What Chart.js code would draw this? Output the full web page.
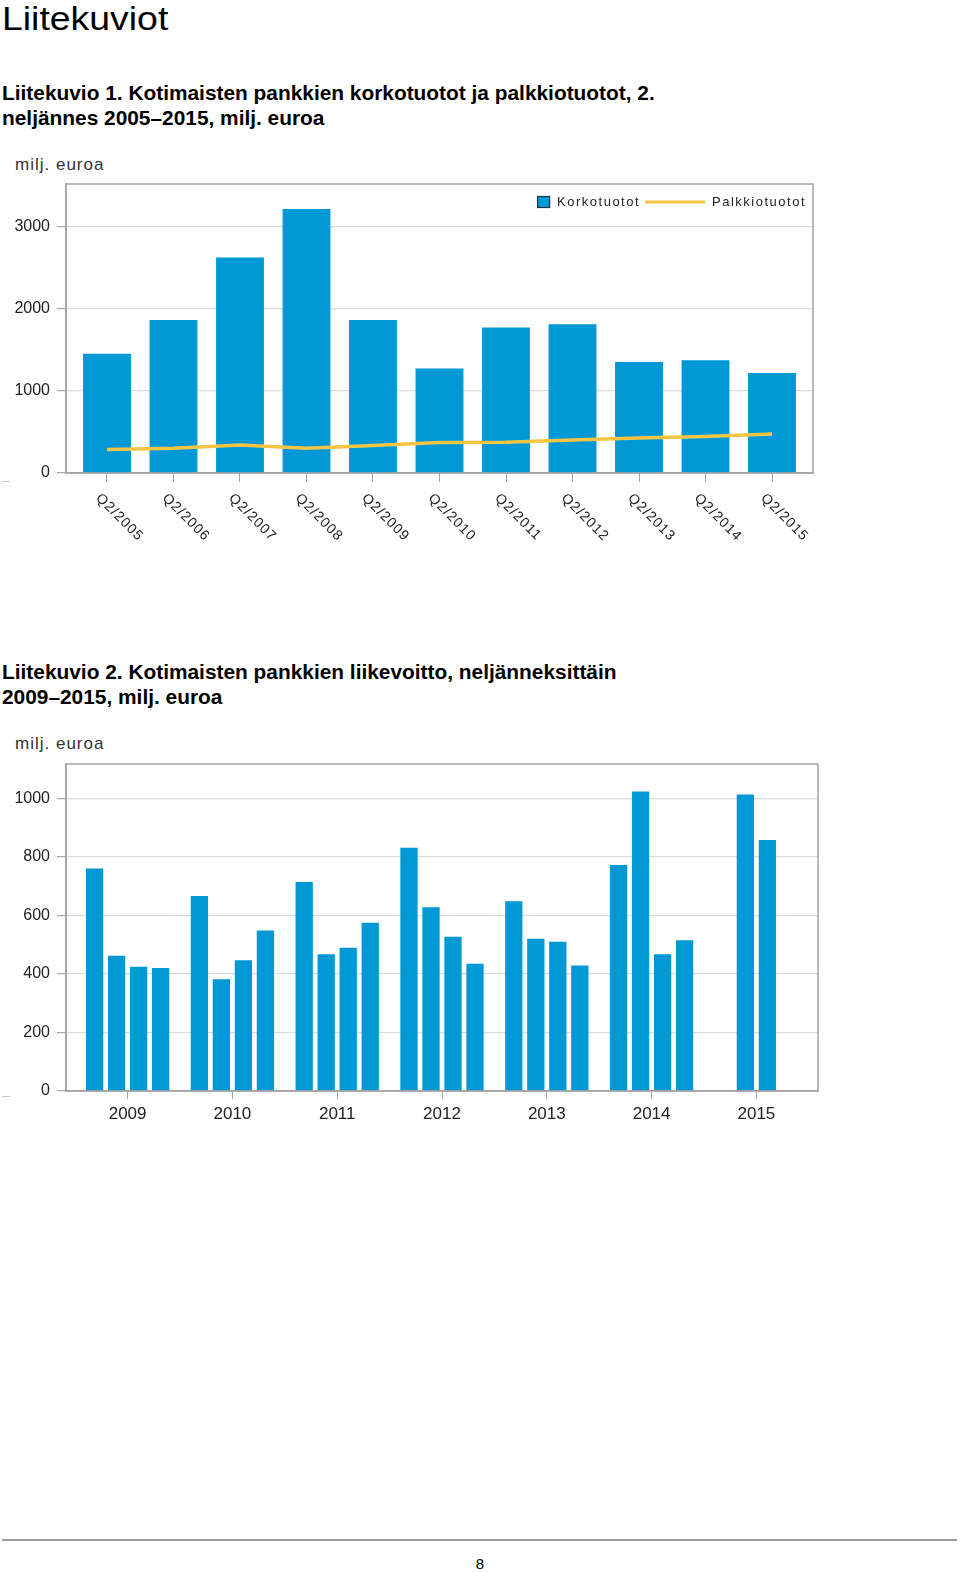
<!DOCTYPE html>
<html lang="fi">
<head>
<meta charset="utf-8">
<title>Liitekuviot</title>
<script src="https://cdn.jsdelivr.net/npm/chart.js@4.4.1/dist/chart.umd.min.js"></script>
<style>
  body { margin: 0; width: 960px; height: 1572px; position: relative; background: #fff;
         font-family: 'Liberation Sans', Arial, sans-serif; color: #000; }
  .abs { position: absolute; }
  h1 { position: absolute; left: 2px; top: 1px; margin: 0; font-size: 34px; line-height: 34px; font-weight: normal;
       transform: scaleX(1.1); transform-origin: left top; white-space: nowrap; }
  .caption { position: absolute; left: 2px; margin: 0; font-size: 19.5px; line-height: 25px; font-weight: bold;
             transform: scaleX(1.07); transform-origin: left top; white-space: nowrap; }
  .unit { position: absolute; left: 15px; font-size: 17px; color: #333; letter-spacing: 1px; }
  .dash { position: absolute; left: 2px; width: 8px; height: 1px; background: #c8c8c8; }
  canvas { position: absolute; left: 0; }
</style>
</head>
<body>
<h1>Liitekuviot</h1>

<p class="caption" style="top:81px">Liitekuvio 1. Kotimaisten pankkien korkotuotot ja palkkiotuotot, 2.<br>neljännes 2005–2015, milj. euroa</p>
<div class="unit" style="top:155px">milj. euroa</div>
<canvas id="chart-income" width="830" height="420" style="top:140px"></canvas>
<div class="dash" style="top:481px"></div>

<p class="caption" style="top:660px">Liitekuvio 2. Kotimaisten pankkien liikevoitto, neljänneksittäin<br>2009–2015, milj. euroa</p>
<div class="unit" style="top:734px">milj. euroa</div>
<canvas id="chart-profit" width="830" height="420" style="top:720px"></canvas>
<div class="dash" style="top:1096px"></div>

<div class="abs" style="left:2px; top:1539px; width:955px; height:2px; background:#9a9a9a"></div>
<div class="abs" style="left:0; width:960px; top:1555px; text-align:center; font-size:15px">8</div>

<script>
// Chart 1: Q2 of each year, korkotuotot (bars) and palkkiotuotot (line)
const quarters = ['Q2/2005', 'Q2/2006', 'Q2/2007', 'Q2/2008', 'Q2/2009', 'Q2/2010',
  'Q2/2011', 'Q2/2012', 'Q2/2013', 'Q2/2014', 'Q2/2015'];
const korkotuotot = [1450, 1860, 2620, 3210, 1860, 1270, 1770, 1810, 1350, 1370, 1215];
const palkkiotuotot = [285, 300, 340, 300, 335, 370, 375, 400, 425, 445, 475];
const incomeTicks = [0, 1000, 2000, 3000];

// Chart 2: quarterly operating profit per year (null = no data yet)
const years = [2009, 2010, 2011, 2012, 2013, 2014, 2015];
const q1 = [760, 666, 714, 831, 648, 772, 1013];
const q2 = [462, 382, 467, 628, 520, 1023, 857];
const q3 = [424, 447, 489, 527, 510, 467, null];
const q4 = [420, 548, 575, 435, 429, 515, null];
const profitTicks = [0, 200, 400, 600, 800, 1000];

const BLUE = '#0099d6';
const YELLOW = '#f5c443';
const FRAME = '#a4a4a4';
const GRID = '#dcdcdc';
const FONT = "'Liberation Sans', Arial, sans-serif";
// distance between two quarter bars inside one year, in years
const QUARTER_STEP = 0.21;

/**
 * Draws the box round the plot area (top and right side are not axis borders)
 */
const framePlugin = {
  id: 'frame',
  afterDatasetsDraw(chart) {
    const { ctx, chartArea: a } = chart;
    ctx.save();
    ctx.strokeStyle = FRAME;
    ctx.lineWidth = 1.5;
    ctx.strokeRect(a.left, a.top, a.right - a.left, a.bottom - a.top);
    ctx.restore();
  },
};

/**
 * Rotated category labels below the x axis, reading downwards to the right
 */
const slantLabels = {
  id: 'slantLabels',
  afterDraw(chart) {
    const { ctx } = chart;
    const scale = chart.scales.x;
    ctx.save();
    ctx.font = `14px ${FONT}`;
    if ('letterSpacing' in ctx) ctx.letterSpacing = '1px';
    ctx.fillStyle = '#222';
    ctx.textAlign = 'left';
    ctx.textBaseline = 'top';
    quarters.forEach((label, i) => {
      const x = scale.getPixelForValue(i);
      ctx.save();
      ctx.translate(x - 4, chart.chartArea.bottom + 18);
      ctx.rotate(Math.PI / 4);
      ctx.fillText(label, 0, 0);
      ctx.restore();
    });
    ctx.restore();
  },
};

/**
 * Legend drawn inside the plot area, top right
 */
const insideLegend = {
  id: 'insideLegend',
  afterDraw(chart) {
    const { ctx, chartArea: a } = chart;
    const [bars, line] = chart.data.datasets;
    ctx.save();
    ctx.font = `13px ${FONT}`;
    if ('letterSpacing' in ctx) ctx.letterSpacing = '1.5px';
    const w1 = ctx.measureText(bars.label).width;
    const w2 = ctx.measureText(line.label).width;
    const total = 13 + 7 + w1 + 5 + 60 + 7 + w2;
    let x = a.right - 7 - total;
    const y = a.top + 18;

    ctx.fillStyle = bars.backgroundColor;
    ctx.fillRect(x, y - 6, 13, 12);
    ctx.strokeStyle = '#1d3550';
    ctx.lineWidth = 1.2;
    ctx.strokeRect(x + 0.5, y - 5.5, 12, 11);
    x += 20;

    ctx.fillStyle = '#222';
    ctx.textBaseline = 'middle';
    ctx.fillText(bars.label, x, y);
    x += w1 + 5;

    ctx.strokeStyle = line.borderColor;
    ctx.lineWidth = 3;
    ctx.beginPath();
    ctx.moveTo(x, y);
    ctx.lineTo(x + 60, y);
    ctx.stroke();
    x += 67;

    ctx.fillText(line.label, x, y);
    ctx.restore();
  },
};

const yAxis = (max, tickValues) => ({
  min: 0,
  max,
  afterFit: scale => { scale.width = 66; },
  afterBuildTicks: scale => { scale.ticks = tickValues.map(v => ({ value: v })); },
  border: { color: FRAME, width: 1.5 },
  grid: { color: GRID, tickColor: FRAME, tickLength: 9, lineWidth: 1.2 },
  ticks: {
    padding: 7,
    color: '#222',
    font: { family: FONT, size: 16 },
    callback: v => String(v),
  },
});

// Chart 1
new Chart(document.getElementById('chart-income'), {
  type: 'bar',
  data: {
    datasets: [
      {
        type: 'bar',
        label: 'Korkotuotot',
        data: korkotuotot.map((v, i) => ({ x: i, y: v })),
        backgroundColor: BLUE,
        barPercentage: 0.72,
        categoryPercentage: 1,
        order: 1,
      },
      {
        type: 'line',
        label: 'Palkkiotuotot',
        data: palkkiotuotot.map((v, i) => ({ x: i, y: v })),
        borderColor: YELLOW,
        borderWidth: 3.5,
        pointRadius: 0,
        tension: 0,
        order: 0,
      },
    ],
  },
  options: {
    responsive: false,
    animation: false,
    devicePixelRatio: 1,
    layout: { padding: { top: 44, right: 17, left: 0, bottom: 0 } },
    scales: {
      x: {
        type: 'linear',
        offset: false,
        min: -0.6165,
        max: 10.6165,
        afterBuildTicks: scale => { scale.ticks = quarters.map((_, i) => ({ value: i })); },
        afterFit: scale => { scale.height = 87; },
        border: { color: FRAME, width: 1.5 },
        grid: { offset: false, drawOnChartArea: false, tickColor: FRAME, tickLength: 9 },
        ticks: { display: false },
      },
      y: yAxis(3515, incomeTicks),
    },
    plugins: {
      legend: { display: false },
      tooltip: { enabled: false },
    },
  },
  plugins: [framePlugin, slantLabels, insideLegend],
});

// Chart 2: bars of one year are grouped round the year tick
const profitPoints = [];
years.forEach((year, i) => {
  const vals = [q1[i], q2[i], q3[i], q4[i]].filter(v => v !== null);
  vals.forEach((v, k) => {
    profitPoints.push({ x: year + (k - (vals.length - 1) / 2) * QUARTER_STEP, y: v });
  });
});

new Chart(document.getElementById('chart-profit'), {
  type: 'bar',
  data: {
    datasets: [
      {
        label: 'Liikevoitto',
        data: profitPoints,
        backgroundColor: BLUE,
        barPercentage: 0.786,
        categoryPercentage: 1,
      },
    ],
  },
  options: {
    responsive: false,
    animation: false,
    devicePixelRatio: 1,
    layout: { padding: { top: 44, right: 12, left: 0, bottom: 0 } },
    scales: {
      x: {
        type: 'linear',
        offset: false,
        min: 2008.412,
        max: 2015.588,
        afterBuildTicks: scale => { scale.ticks = years.map(v => ({ value: v })); },
        afterFit: scale => { scale.height = 49; },
        border: { color: FRAME, width: 1.5 },
        grid: { offset: false, drawOnChartArea: false, tickColor: FRAME, tickLength: 8 },
        ticks: {
          padding: 5,
          color: '#222',
          font: { family: FONT, size: 17 },
          callback: v => String(v),
        },
      },
      y: yAxis(1117, profitTicks),
    },
    plugins: {
      legend: { display: false },
      tooltip: { enabled: false },
    },
  },
  plugins: [framePlugin],
});
</script>
</body>
</html>
